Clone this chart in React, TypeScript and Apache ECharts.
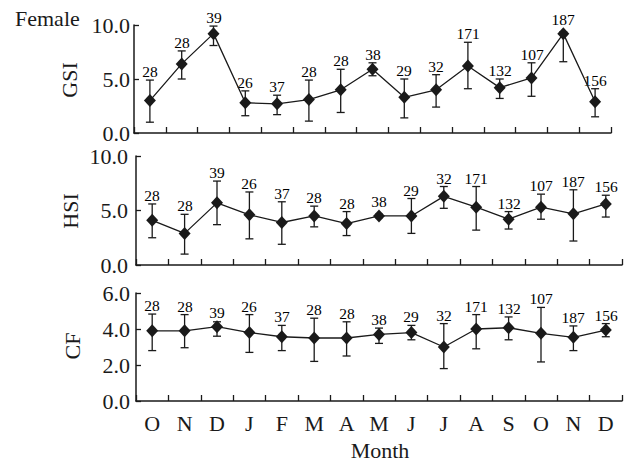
import React, { useEffect, useRef } from "react";
import * as echarts from "echarts";

const months = ["O", "N", "D", "J", "F", "M", "A", "M", "J", "J", "A", "S", "O", "N", "D"];
const sampleN = [28, 28, 39, 26, 37, 28, 28, 38, 29, 32, 171, 132, 107, 187, 156];

const gsiMean = [3.0, 6.4, 9.2, 2.8, 2.7, 3.1, 4.0, 5.9, 3.3, 4.0, 6.2, 4.2, 5.1, 9.2, 2.9];
const gsiUpper = [4.9, 7.6, 9.9, 3.9, 3.5, 4.9, 5.9, 6.5, 5.0, 5.4, 8.4, 5.0, 6.5, 9.35, 4.1];
const gsiLower = [1.0, 5.0, 8.1, 1.6, 1.7, 1.1, 1.9, 5.3, 1.4, 2.4, 4.1, 3.2, 3.4, 6.6, 1.5];

const hsiMean = [4.1, 2.9, 5.7, 4.6, 3.9, 4.5, 3.8, 4.5, 4.5, 6.3, 5.3, 4.2, 5.3, 4.7, 5.6];
const hsiUpper = [5.6, 4.65, 7.7, 6.7, 5.8, 5.4, 4.9, 4.65, 6.1, 7.2, 7.2, 4.9, 6.5, 6.9, 6.4];
const hsiLower = [2.5, 1.0, 3.7, 2.4, 1.9, 3.5, 2.7, 4.35, 2.9, 5.2, 3.2, 3.3, 4.2, 2.2, 4.4];

const cfMean = [3.9, 3.9, 4.13, 3.8, 3.57, 3.5, 3.5, 3.7, 3.8, 3.0, 4.0, 4.07, 3.76, 3.54, 3.94];
const cfUpper = [4.83, 4.8, 4.4, 4.8, 4.2, 4.6, 4.4, 4.05, 4.2, 4.3, 4.8, 4.67, 5.2, 4.17, 4.3];
const cfLower = [2.8, 2.96, 3.6, 2.7, 2.8, 2.2, 2.5, 3.2, 3.4, 1.8, 2.9, 3.4, 2.17, 2.8, 3.57];

const yMaxes = [10, 10, 6];
const yIntervals = [5, 5, 2];
const yNames = ["GSI", "HSI", "CF"];

const FONT = '"Liberation Serif", "Times New Roman", serif';
const INK = "#1a1a1a";

export default function App() {
  const ref = useRef<HTMLDivElement>(null);

  useEffect(() => {
    if (!ref.current) return;
    const chart = echarts.init(ref.current, null, { renderer: "svg" });

    const grids = [
      { left: 134, top: 25, width: 477, height: 108 },
      { left: 136, top: 156, width: 486, height: 109 },
      { left: 136, top: 293, width: 486, height: 108 },
    ];
    const labelMargins = [4, 8, 6];
    const means = [gsiMean, hsiMean, cfMean];
    const uppers = [gsiUpper, hsiUpper, cfUpper];
    const lowers = [gsiLower, hsiLower, cfLower];

    const axisLineStyle = { color: INK, width: 1.5 };

    const xAxis = grids.map((_, i) => ({
      type: "category",
      gridIndex: i,
      data: months,
      boundaryGap: true,
      axisLine: { show: true, lineStyle: axisLineStyle },
      axisTick: { show: true, inside: true, length: 6, lineStyle: { color: INK, width: 1.3 } },
      axisLabel: {
        show: i === 2,
        color: INK,
        fontFamily: FONT,
        fontSize: 22,
        margin: 11,
      },
      splitLine: { show: false },
    }));

    const yAxis = grids.map((_, i) => ({
      type: "value",
      gridIndex: i,
      min: 0,
      max: yMaxes[i],
      interval: yIntervals[i],
      axisLine: { show: true, lineStyle: axisLineStyle },
      axisTick: { show: true, inside: true, length: 5, lineStyle: { color: INK, width: 1.3 } },
      axisLabel: {
        color: INK,
        fontFamily: FONT,
        fontSize: 22,
        margin: labelMargins[i],
        formatter: (v: number) => v.toFixed(1),
      },
      splitLine: { show: false },
    }));

    const series: any[] = [];
    grids.forEach((_, i) => {
      const errData = means[i].map((m, k) => [k, lowers[i][k], uppers[i][k], m, sampleN[k]]);
      series.push({
        type: "custom",
        xAxisIndex: i,
        yAxisIndex: i,
        z: 1,
        clip: false,
        itemStyle: { color: INK },
        encode: { x: 0, y: [1, 2] },
        data: errData,
        renderItem: (params: any, api: any) => {
          const idx = api.value(0);
          const lo = api.coord([idx, api.value(1)]);
          const hi = api.coord([idx, api.value(2)]);
          const pt = api.coord([idx, api.value(3)]);
          const n = api.value(4);
          const cap = 4;
          const st = { stroke: INK, lineWidth: 1.3 };
          const topY = Math.min(hi[1], pt[1] - 6);
          return {
            type: "group",
            children: [
              { type: "line", shape: { x1: lo[0], y1: lo[1], x2: hi[0], y2: hi[1] }, style: st },
              { type: "line", shape: { x1: hi[0] - cap, y1: hi[1], x2: hi[0] + cap, y2: hi[1] }, style: st },
              { type: "line", shape: { x1: lo[0] - cap, y1: lo[1], x2: lo[0] + cap, y2: lo[1] }, style: st },
              {
                type: "text",
                x: Math.round(pt[0]),
                y: Math.round(topY - 1),
                style: {
                  text: String(n),
                  x: 0,
                  y: 0,
                  align: "center",
                  verticalAlign: "bottom",
                  fontSize: 15.5,
                  fontFamily: FONT,
                  fill: "#000000",
                  opacity: 1,
                },
              },
            ],
          };
        },
      });
      series.push({
        type: "line",
        xAxisIndex: i,
        yAxisIndex: i,
        z: 3,
        data: means[i],
        symbol: "diamond",
        symbolSize: [12, 13],
        showSymbol: true,
        itemStyle: { color: INK },
        lineStyle: { color: INK, width: 1.3 },
      });
    });

    const nameCenters = [
      { x: 69, y: 80 },
      { x: 70, y: 211 },
      { x: 72, y: 346 },
    ];

    const graphic: any[] = [
      {
        type: "text",
        left: 15,
        top: 7,
        style: { text: "Female", fontSize: 22, fontFamily: FONT, fill: INK },
      },
      {
        type: "text",
        x: 380,
        y: 450,
        style: {
          text: "Month",
          fontSize: 22,
          fontFamily: FONT,
          fill: INK,
          align: "center",
          verticalAlign: "middle",
        },
      },
      ...nameCenters.map((c, i) => ({
        type: "text",
        x: c.x,
        y: c.y,
        rotation: Math.PI / 2,
        style: {
          text: yNames[i],
          fontSize: 22,
          fontFamily: FONT,
          fill: INK,
          align: "center",
          verticalAlign: "middle",
        },
      })),
    ];

    chart.setOption({
      animation: false,
      backgroundColor: "#ffffff",
      grid: grids,
      xAxis,
      yAxis,
      series,
      graphic,
    });

    return () => chart.dispose();
  }, []);

  return (
    <div
      ref={ref}
      style={{ position: "absolute", left: 0, top: 0, width: 629, height: 462 }}
    />
  );
}
